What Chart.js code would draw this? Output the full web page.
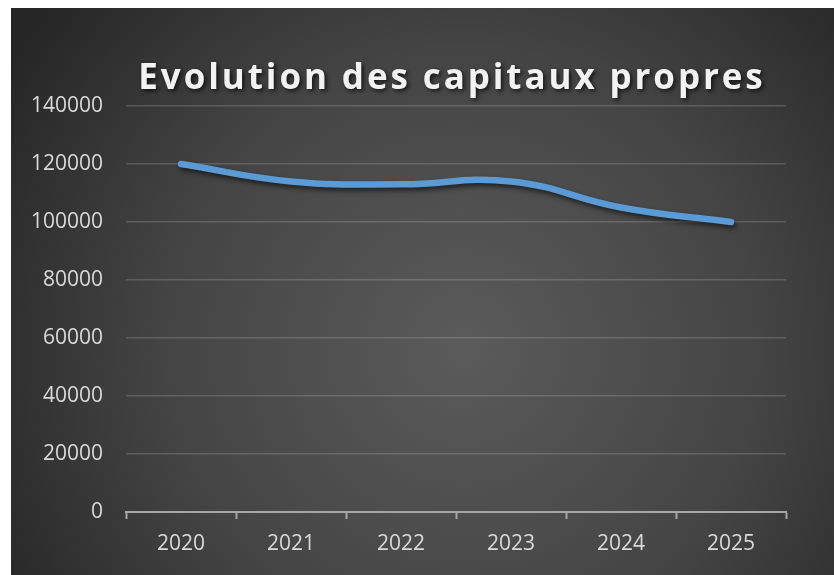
<!DOCTYPE html>
<html>
<head>
<meta charset="utf-8">
<script src="https://cdn.jsdelivr.net/npm/chart.js@4"></script>
<style>
  html, body { margin: 0; padding: 0; background: #ffffff; }
  #wrap { position: absolute; left: 11px; top: 8px; width: 823px; height: 567px; }
</style>
</head>
<body>
<div id="wrap"><canvas id="chart" width="823" height="567"></canvas></div>
<script>
const years = ['2020', '2021', '2022', '2023', '2024', '2025'];
const capitaux = [120000, 114000, 113000, 114000, 105000, 100000];
const yTicks = [0, 20000, 40000, 60000, 80000, 100000, 120000, 140000];
const titleText = 'Evolution des capitaux propres';

// Excel-like dark radial background
const backgroundPlugin = {
  id: 'bg',
  beforeDraw(chart) {
    const { ctx, width, height } = chart;
    const g = ctx.createRadialGradient(width * 0.55, height * 0.6, 10, width * 0.55, height * 0.6, width * 0.65);
    g.addColorStop(0, '#5a5a5a');
    g.addColorStop(0.55, '#444444');
    g.addColorStop(1, '#262626');
    ctx.save();
    ctx.fillStyle = g;
    ctx.fillRect(0, 0, width, height);
    ctx.restore();
  }
};

// title centred over the plot area, letter-spaced
const titlePlugin = {
  id: 'bigTitle',
  afterDraw(chart) {
    const { ctx, chartArea } = chart;
    ctx.save();
    ctx.font = 'bold 35px "Open Sans", sans-serif';
    ctx.letterSpacing = '2.9px';
    ctx.textAlign = 'center';
    ctx.textBaseline = 'alphabetic';
    ctx.shadowColor = 'rgba(0,0,0,0.7)';
    ctx.shadowBlur = 4;
    ctx.shadowOffsetX = 2;
    ctx.shadowOffsetY = 2;
    ctx.fillStyle = '#f2f2f2';
    ctx.fillText(titleText, (chartArea.left + chartArea.right) / 2 - 4, 81);
    ctx.restore();
  }
};

const shadowPlugin = {
  id: 'lineShadow',
  beforeDatasetsDraw(chart) {
    const ctx = chart.ctx;
    ctx.save();
    ctx.shadowColor = 'rgba(0,0,0,0.6)';
    ctx.shadowBlur = 5;
    ctx.shadowOffsetX = 2;
    ctx.shadowOffsetY = 3;
  },
  afterDatasetsDraw(chart) {
    chart.ctx.restore();
  }
};

new Chart(document.getElementById('chart').getContext('2d'), {
  type: 'line',
  data: {
    labels: years,
    datasets: [{
      label: 'Capitaux propres',
      data: capitaux,
      borderColor: '#5b9bd5',
      borderWidth: 6.5,
      borderCapStyle: 'round',
      borderJoinStyle: 'round',
      pointRadius: 0,
      tension: 0.45,
      fill: false
    }]
  },
  options: {
    responsive: false,
    animation: false,
    layout: { padding: { top: 98, right: 48, left: 0, bottom: 0 } },
    plugins: {
      legend: { display: false },
      title: { display: false },
      tooltip: { enabled: false }
    },
    scales: {
      x: {
        offset: true,
        grid: {
          offset: true,
          drawOnChartArea: false,
          drawTicks: true,
          tickLength: 7,
          tickColor: '#a6a6a6',
          tickWidth: 2
        },
        border: { display: true, color: '#a6a6a6', width: 2 },
        ticks: {
          color: '#d9d9d9',
          padding: 12,
          font: { family: '"Open Sans", sans-serif', size: 21 }
        },
        afterFit(scale) { scale.height = 63; }
      },
      y: {
        min: 0,
        max: 140000,
        afterBuildTicks(scale) { scale.ticks = yTicks.map(v => ({ value: v })); },
        grid: {
          color: 'rgba(255,255,255,0.16)',
          lineWidth: 1.5,
          drawTicks: false
        },
        border: { display: false },
        ticks: {
          color: '#d9d9d9',
          padding: 23,
          font: { family: '"Open Sans", sans-serif', size: 21 },
          callback: v => String(v)
        },
        afterFit(scale) { scale.width = 115; }
      }
    }
  },
  plugins: [backgroundPlugin, shadowPlugin, titlePlugin]
});
</script>
</body>
</html>
